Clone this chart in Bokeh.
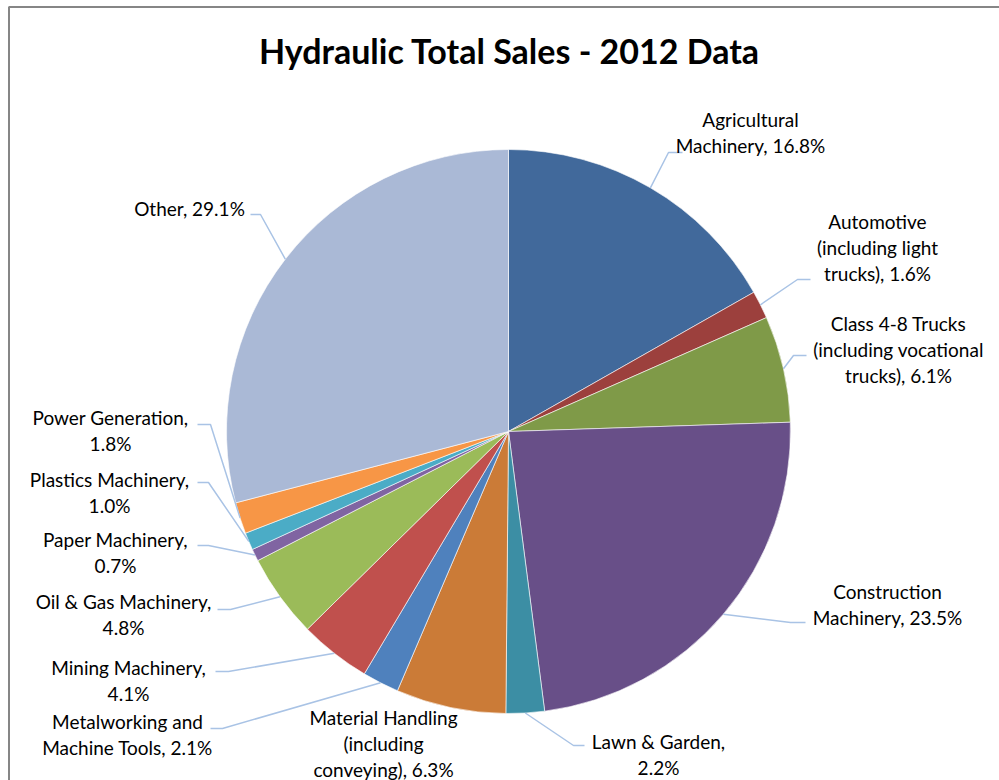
import numpy as np
from bokeh.plotting import figure
from bokeh.models import Range1d
from bokeh.core.properties import value
from bokeh.embed import file_html
from bokeh.resources import INLINE

# ---------------- data ----------------
categories = [
    "Agricultural Machinery",
    "Automotive (including light trucks)",
    "Class 4-8 Trucks (including vocational trucks)",
    "Construction Machinery",
    "Lawn & Garden",
    "Material Handling (including conveying)",
    "Metalworking and Machine Tools",
    "Mining Machinery",
    "Oil & Gas Machinery",
    "Paper Machinery",
    "Plastics Machinery",
    "Power Generation",
    "Other",
]
shares = [16.8, 1.6, 6.1, 23.5, 2.2, 6.3, 2.1, 4.1, 4.8, 0.7, 1.0, 1.8, 29.1]
title_text = "Hydraulic Total Sales - 2012 Data"

# ---------------- style / layout ----------------
colors = ["#41699B", "#9C403D", "#7F9A48", "#684F88", "#3C8EA4", "#CB7B37",
          "#4F81BD", "#C0504D", "#9BBB59", "#8064A2", "#4BACC6", "#F79646", "#AAB9D6"]
# words per line for each label
word_breaks = [[1, 2], [1, 2, 2], [3, 2, 2], [1, 2], [3, 1], [2, 1, 2], [2, 3],
               [2, 1], [4, 1], [2, 1], [2, 1], [2, 1], [2]]
# label centre x / first-line centre y (screen px)
label_x = [750, 877, 898, 887, 658, 383, 127, 128, 123, 115, 109, 110, 189]
label_y = [119, 221, 323, 591, 741, 717, 721, 667, 601, 539, 479, 417, 208]
line_step = 26
# leader line elbow and end (screen px); None = no leader
leader_elbow = [(668, 152), (797, 279), (793, 355), (790, 622), (573, 745), None,
                (222, 728), (228, 671), (230, 609), (208, 545), (208, 482), (210, 424), (260, 214)]
leader_end = [682, 810, 806, 805, 584, None, 210, 215, 217, 197, 197, 197, 250]

W, H = 999, 780
CX, CY, R = 508, 431, 282
FONT = "Lato"


def sy(py):
    return H - py


p = figure(width=W, height=H, output_backend="svg", toolbar_location=None,
           x_range=Range1d(0, W), y_range=Range1d(0, H),
           x_axis_type=None, y_axis_type=None, min_border=0)
p.outline_line_color = None
p.grid.visible = False
p.background_fill_color = "white"
p.border_fill_color = "white"

# chart border (top & left visible)
p.line([8.5, 8.5, W + 5], [sy(H + 5), sy(6.5), sy(6.5)], line_color="#868686", line_width=2)

# wedges
vals = np.array(shares)
frac = vals / vals.sum()
cum = np.concatenate([[0], np.cumsum(frac)])
start = np.pi / 2 - 2 * np.pi * cum[:-1]
end = np.pi / 2 - 2 * np.pi * cum[1:]
p.wedge(x=CX, y=sy(CY), radius=R, start_angle=start, end_angle=end,
        direction="clock", fill_color=colors, line_color="white", line_width=0.6)

# leader lines
mid = (start + end) / 2
xs, ys = [], []
for i in range(len(shares)):
    if leader_elbow[i] is None:
        continue
    ex = CX + R * np.cos(mid[i])
    ey = sy(CY) + R * np.sin(mid[i])
    bx, by = leader_elbow[i]
    xs.append([ex, bx, leader_end[i]])
    ys.append([ey, sy(by), sy(by)])
p.multi_line(xs, ys, line_color="#A9C3E5", line_width=1.5)

# labels
tx, ty, tt = [], [], []
for i, cat in enumerate(categories):
    words = f"{cat}, {shares[i]:.1f}%".split(" ")
    k = 0
    for j, n in enumerate(word_breaks[i]):
        tt.append(" ".join(words[k:k + n]))
        k += n
        tx.append(label_x[i])
        ty.append(sy(label_y[i] + j * line_step))
p.text(x=tx, y=ty, text=tt, text_align="center", text_baseline="middle",
       text_font=value(FONT), text_font_size="19px", text_color="#000000")

# title
p.text(x=[509], y=[sy(50)], text=[title_text], text_align="center", text_baseline="middle",
       text_font=value(FONT), text_font_size="34px", text_font_style="bold", text_color="#000000")

open("out.html", "w").write(file_html(p, INLINE))
